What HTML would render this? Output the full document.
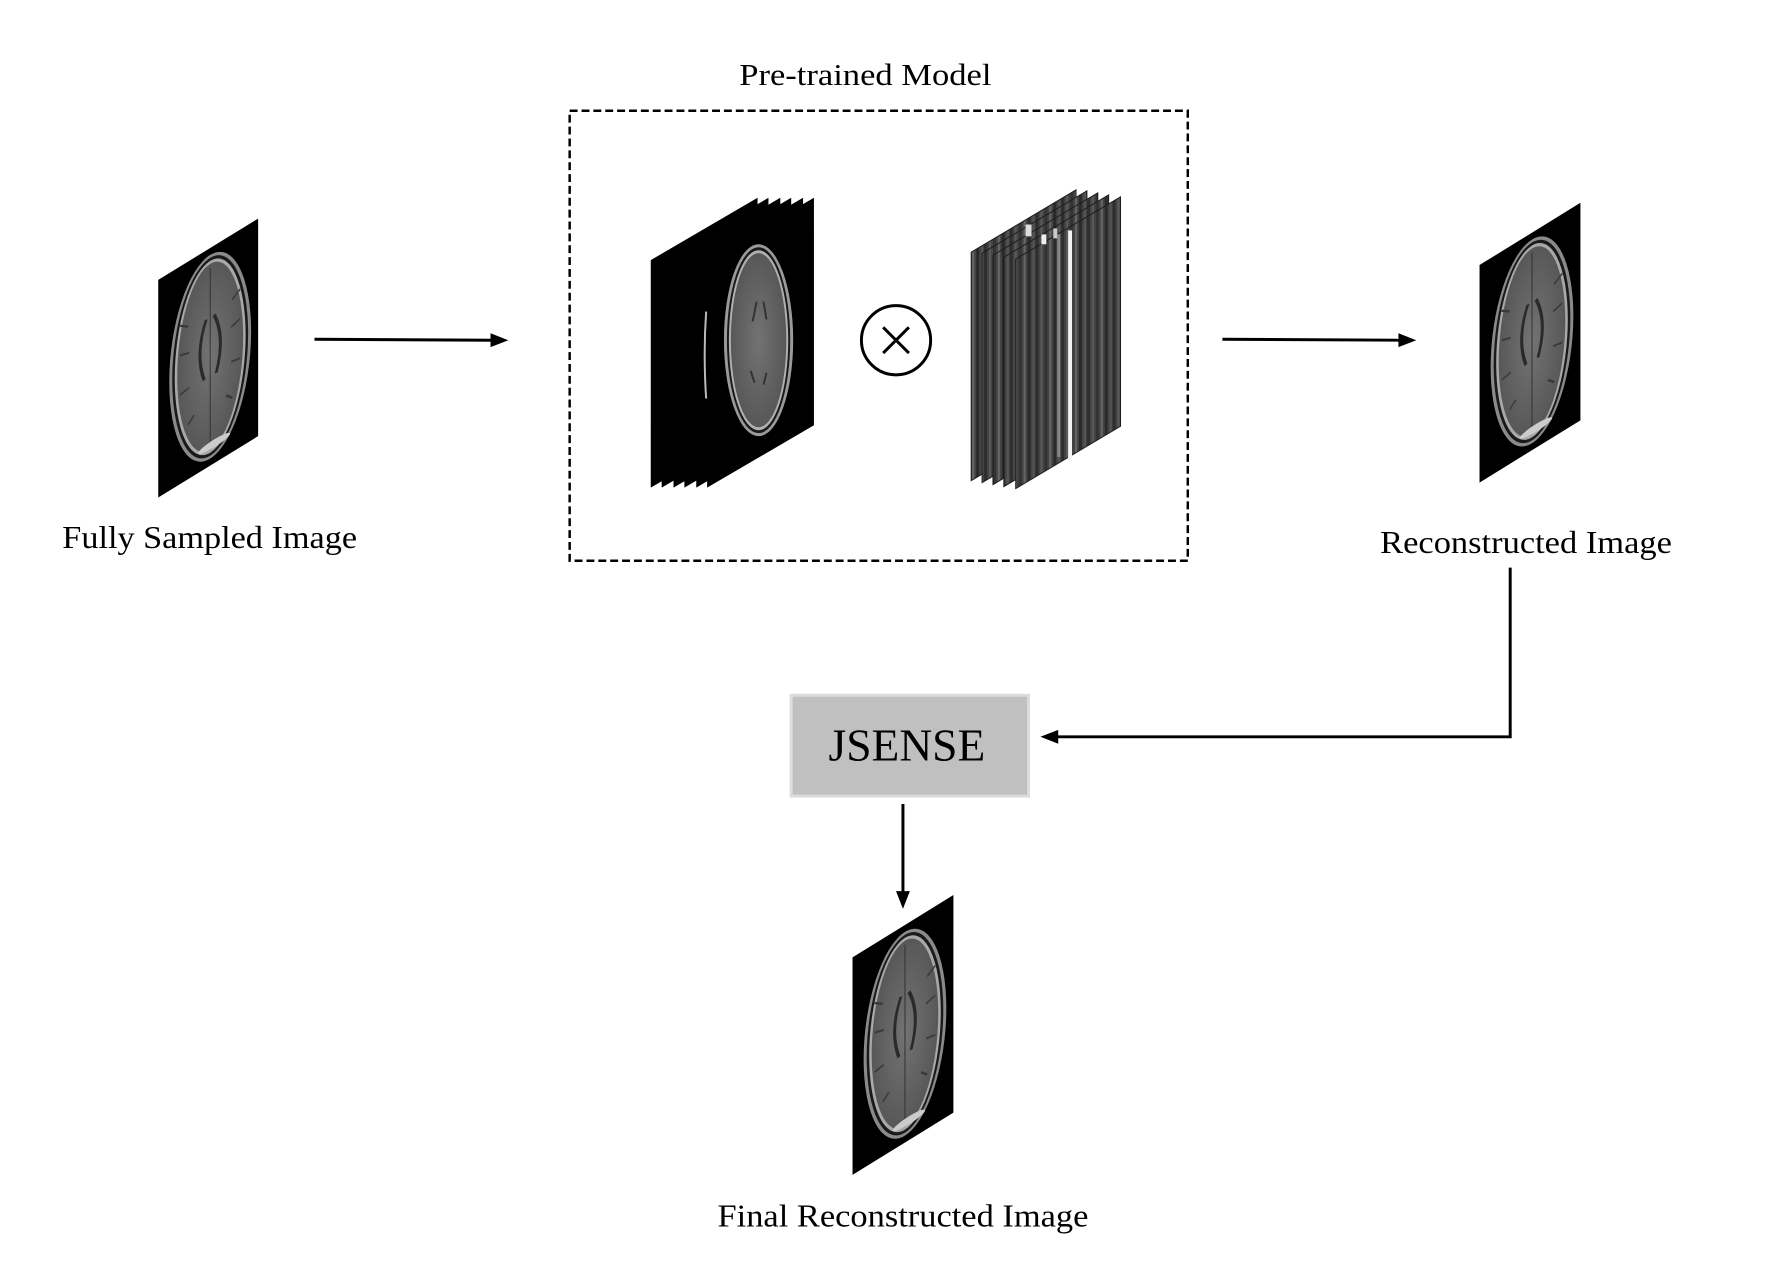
<!DOCTYPE html>
<html><head><meta charset="utf-8"><style>
html,body{margin:0;padding:0;background:#fff;}
svg{display:block;}
text{font-family:"Liberation Serif",serif;fill:#000;}
</style></head><body>
<svg width="1770" height="1276" viewBox="0 0 1770 1276" xmlns="http://www.w3.org/2000/svg">
<defs>
  <radialGradient id="bg" cx="50%" cy="50%" r="55%">
    <stop offset="0" stop-color="#737373"/>
    <stop offset="1" stop-color="#555"/>
  </radialGradient>
  <g id="slice">
    <rect x="0" y="0" width="100" height="220" fill="#000"/>
    <ellipse cx="52" cy="110" rx="41" ry="103" fill="#8a8a8a"/>
    <ellipse cx="52" cy="110" rx="38" ry="100" fill="#1a1a1a"/>
    <ellipse cx="52" cy="110" rx="35.5" ry="97" fill="#a8a8a8"/>
    <ellipse cx="52" cy="110" rx="33" ry="94" fill="url(#bg)"/>
    <path d="M52,20 L52,200" stroke="#333" stroke-width="1"/>
    <path d="M48,70 C40,90 40,110 46,130 M56,70 C64,90 64,110 58,130" stroke="#2a2a2a" stroke-width="3" fill="none"/>
    <path d="M22,60 l8,6 M22,90 l9,3 M22,130 l9,-2 M82,60 l-8,6 M82,90 l-9,3 M82,130 l-9,-2 M30,165 l6,-6 M74,165 l-6,-6" stroke="#3a3a3a" stroke-width="2"/>
    <ellipse cx="56" cy="200" rx="16" ry="4" fill="#ccc"/>
  </g>
  <pattern id="stripes" patternUnits="userSpaceOnUse" width="26" height="10">
    <rect x="0" y="0" width="26" height="10" fill="#444"/>
    <rect x="0" y="0" width="3" height="10" fill="#2e2e2e"/>
    <rect x="5" y="0" width="2" height="10" fill="#5a5a5a"/>
    <rect x="9" y="0" width="3" height="10" fill="#333"/>
    <rect x="14" y="0" width="2" height="10" fill="#666"/>
    <rect x="18" y="0" width="3" height="10" fill="#2a2a2a"/>
    <rect x="23" y="0" width="2" height="10" fill="#555"/>
  </pattern>
</defs>
<g transform="scale(0.989)">
<text x="875" y="86" font-size="31" text-anchor="middle" textLength="255" lengthAdjust="spacingAndGlyphs">Pre-trained Model</text>
<rect x="576" y="112" width="625" height="455" fill="none" stroke="#000" stroke-width="2.5" stroke-dasharray="8,4"/>

<g transform="matrix(1.01,-0.62,0,1,160,283)"><use href="#slice"/></g>
<text x="212" y="554" font-size="32" text-anchor="middle" textLength="298" lengthAdjust="spacingAndGlyphs">Fully Sampled Image</text>

<line x1="318" y1="343" x2="500" y2="344" stroke="#000" stroke-width="3"/>
<path d="M496,337 L514,344 L496,351 z" fill="#000"/>

<g transform="translate(7,5)">
<g fill="#000">
  <polygon points="651,258 759,195 759,425 651,488"/>
  <polygon points="662,258 770,195 770,425 662,488"/>
  <polygon points="674,258 782,195 782,425 674,488"/>
  <polygon points="685,258 793,195 793,425 685,488"/>
  <polygon points="697,258 805,195 805,425 697,488"/>
  <polygon points="708,258 816,195 816,425 708,488"/>
</g>
<path d="M707,310 Q704,353 707,398" stroke="#bbb" stroke-width="2" fill="none"/>
<ellipse cx="760" cy="339" rx="35" ry="97" fill="#9a9a9a"/>
<ellipse cx="760" cy="339" rx="32" ry="94" fill="#1a1a1a"/>
<ellipse cx="760" cy="339" rx="30" ry="91" fill="#b0b0b0"/>
<ellipse cx="760" cy="339" rx="28" ry="88" fill="url(#bg)"/>
<path d="M758,300 l-4,20 M765,300 l3,18 M752,370 l4,12 M768,372 l-3,12" stroke="#333" stroke-width="2"/>

<circle cx="899" cy="339" r="35" fill="none" stroke="#000" stroke-width="3"/>
<path d="M886,326 L912,352 M912,326 L886,352" stroke="#000" stroke-width="3"/>

<g stroke="#1c1c1c" stroke-width="1">
  <polygon points="975,250 1081,187 1081,418 975,481" fill="url(#stripes)"/>
  <polygon points="986,251 1092,188 1092,420 986,483" fill="url(#stripes)"/>
  <polygon points="997,253 1103,190 1103,422 997,485" fill="url(#stripes)"/>
  <polygon points="1008,255 1114,192 1114,424 1008,487" fill="url(#stripes)"/>
  <polygon points="1020,257 1126,194 1126,426 1020,489" fill="url(#stripes)"/>
</g>
<rect x="1073" y="228" width="4" height="232" fill="#f4f4f4"/>
<rect x="1062" y="232" width="3" height="225" fill="#888"/>
<rect x="1030" y="222" width="6" height="12" fill="#ddd"/>
<rect x="1046" y="232" width="5" height="10" fill="#eee"/>
<rect x="1058" y="226" width="4" height="10" fill="#ccc"/>
</g>

<line x1="1236" y1="343" x2="1418" y2="344" stroke="#000" stroke-width="3"/>
<path d="M1414,337 L1432,344 L1414,351 z" fill="#000"/>

<g transform="matrix(1.02,-0.63,0,1,1496,268)"><use href="#slice"/></g>
<text x="1543" y="559" font-size="32" text-anchor="middle" textLength="295" lengthAdjust="spacingAndGlyphs">Reconstructed Image</text>

<polyline points="1527,574 1527,745 1068,745" fill="none" stroke="#000" stroke-width="3"/>
<path d="M1070,738 L1052,745 L1070,752 z" fill="#000"/>

<rect x="800" y="703" width="240" height="102" fill="#c0c0c0" stroke="#dcdcdc" stroke-width="3"/>
<text x="917" y="769" font-size="46" text-anchor="middle">JSENSE</text>

<line x1="913" y1="813" x2="913" y2="905" stroke="#000" stroke-width="3"/>
<path d="M906,901 L913,919 L920,901 z" fill="#000"/>

<g transform="matrix(1.02,-0.63,0,1,862,968)"><use href="#slice"/></g>
<text x="913" y="1240" font-size="32" text-anchor="middle" textLength="375" lengthAdjust="spacingAndGlyphs">Final Reconstructed Image</text>
</g>
</svg>
</body></html>
